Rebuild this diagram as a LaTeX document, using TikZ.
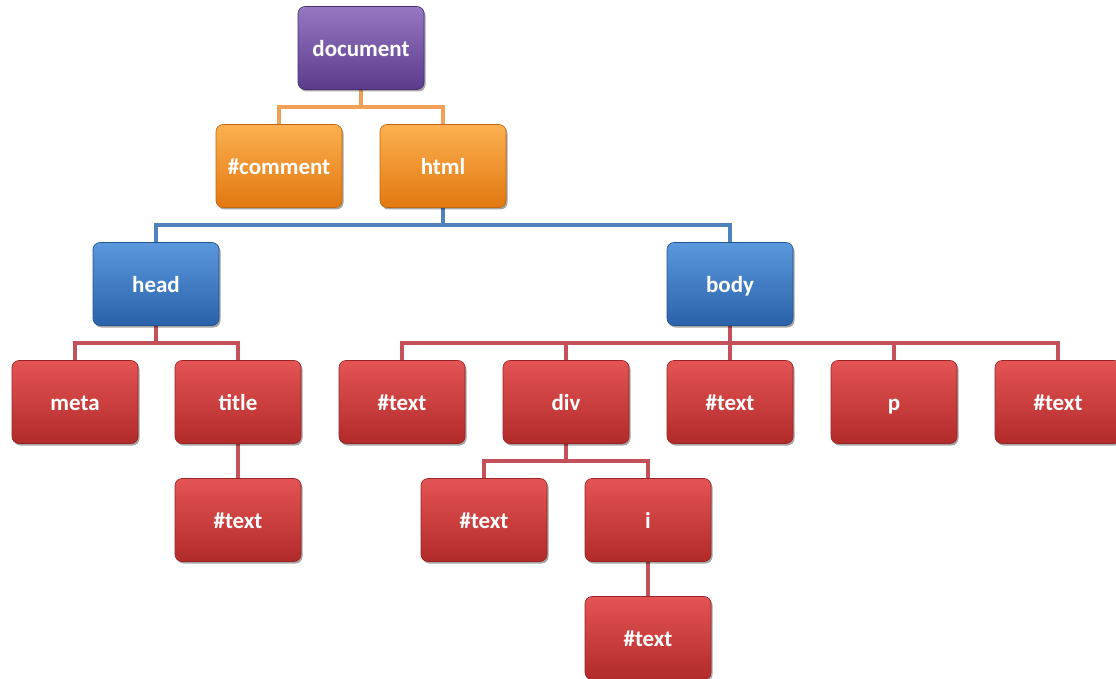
\documentclass[tikz,border=0pt]{standalone}
\usepackage{fontspec}
\setmainfont{Carlito}
\usetikzlibrary{shadows}
\definecolor{purT}{HTML}{9577C2}
\definecolor{purB}{HTML}{5B3B8C}
\definecolor{orT}{HTML}{FBB050}
\definecolor{orB}{HTML}{E27810}
\definecolor{blT}{HTML}{5A98DE}
\definecolor{blB}{HTML}{2A62AA}
\definecolor{rdT}{HTML}{E45454}
\definecolor{rdB}{HTML}{B22A2A}
\definecolor{orL}{HTML}{F2A058}
\definecolor{blL}{HTML}{4F81BD}
\definecolor{rdL}{HTML}{C4505A}
\tikzset{
  box/.style={rectangle, rounded corners=7pt, minimum width=126pt, minimum height=83pt,
    text=white, font=\fontsize{23}{26}\selectfont\bfseries, inner sep=0pt,
    text height=19pt, text depth=2pt,
    drop shadow={shadow xshift=1.5pt, shadow yshift=-2pt, opacity=0.35, fill=black}},
  pur/.style={box, top color=purT, bottom color=purB, draw=purB!80!black, line width=0.6pt},
  ora/.style={box, top color=orT, bottom color=orB, draw=orB!85!black, line width=0.6pt},
  blu/.style={box, top color=blT, bottom color=blB, draw=blB!85!black, line width=0.6pt},
  red/.style={box, top color=rdT, bottom color=rdB, draw=rdB!85!black, line width=0.6pt},
  link/.style={line width=4.5pt},
  olink/.style={link, draw=orL},
  blink/.style={link, draw=blL},
  rlink/.style={link, draw=rdL},
}
\pgfdeclarelayer{bg}\pgfsetlayers{bg,main}
\begin{document}
\begin{tikzpicture}[x=1pt,y=-1pt]
\useasboundingbox (0,0) rectangle (1116,679);
\coordinate (b1) at (0,107);
\coordinate (b2) at (0,225);
\coordinate (b3) at (0,343);
\coordinate (b4) at (0,461);
\node[pur] (document) at (361,48) {document};
\node[ora] (comment) at (279,166) {\#comment};
\node[ora] (html) at (443,166) {html};
\node[blu] (head) at (156,284) {head};
\node[blu] (body) at (730,284) {body};
\node[red] (meta) at (75,402) {meta};
\node[red] (title) at (238,402) {title};
\node[red] (t1) at (402,402) {\#text};
\node[red] (div) at (566,402) {div};
\node[red] (t2) at (730,402) {\#text};
\node[red] (p) at (894,402) {p};
\node[red] (t3) at (1058,402) {\#text};
\node[red] (t4) at (238,520) {\#text};
\node[red] (t5) at (484,520) {\#text};
\node[red] (i) at (648,520) {i};
\node[red] (t6) at (648,638) {\#text};
\begin{pgfonlayer}{bg}
\draw[olink] (document.south) |- (b1 -| comment) -- (comment.north);
\draw[olink] (b1 -| document) -| (html.north);
\draw[blink] (html.south) |- (b2 -| head) -- (head.north);
\draw[blink] (b2 -| html) -| (body.north);
\draw[rlink] (head.south) |- (b3 -| meta) -- (meta.north);
\draw[rlink] (b3 -| head) -| (title.north);
\draw[rlink] (body.south) |- (b3 -| t1) -- (t1.north);
\draw[rlink] (b3 -| body) -| (t3.north);
\draw[rlink] (b3 -| div) -- (div.north);
\draw[rlink] (b3 -| t2) -- (t2.north);
\draw[rlink] (b3 -| p) -- (p.north);
\draw[rlink] (title.south) -- (t4.north);
\draw[rlink] (div.south) |- (b4 -| t5) -- (t5.north);
\draw[rlink] (b4 -| div) -| (i.north);
\draw[rlink] (i.south) -- (t6.north);
\end{pgfonlayer}
\end{tikzpicture}
\end{document}
